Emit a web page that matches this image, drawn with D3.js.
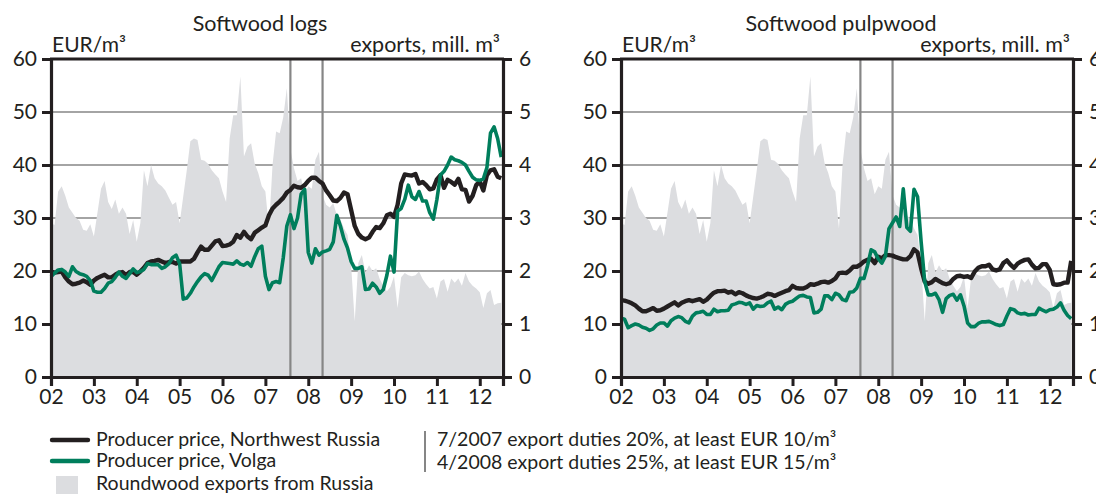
<!DOCTYPE html>
<html>
<head>
<meta charset="utf-8">
<script src="https://cdn.jsdelivr.net/npm/d3@7"></script>
<style>
  body { margin: 0; background: #fff; }
  svg text { font-family: Lato, "Open Sans", sans-serif; fill: #231f20; }
</style>
</head>
<body>
<svg id="chart" width="1096" height="494"></svg>
<script>
// monthly series, Jan 2002 .. Jul 2012
var yearLabels = ["02", "03", "04", "05", "06", "07", "08", "09", "10", "11", "12"];

// roundwood exports from Russia, mill. m3 (same in both panels)
var exportsRussia = [
  2.9, 2.87, 3.5, 3.6, 3.42, 3.2, 3.1, 3.0, 2.95, 2.78, 2.76, 2.88,
  2.65, 3.1, 3.55, 3.7, 3.3, 3.17, 3.35, 3.08, 3.2, 3.08, 2.7, 2.96,
  2.55, 2.9, 3.9, 3.6, 4.0, 3.75, 3.65, 3.6, 3.52, 3.38, 3.25, 3.3,
  2.9, 3.4, 3.9, 4.45, 4.5, 4.47, 4.1, 4.08, 4.02, 3.9, 3.82, 3.75,
  3.5, 3.3, 4.5, 4.94, 4.94, 5.67, 4.16, 4.35, 4.41, 4.03, 3.85, 3.6,
  3.5, 2.8, 4.0, 4.63, 4.6, 4.9, 5.45, 4.3, 3.94, 3.7, 3.75, 3.45,
  3.6, 3.55, 4.1, 4.25, 3.43, 3.25, 3.2, 3.28, 3.05, 2.97, 2.8, 2.68,
  2.1, 1.05, 2.15, 2.3, 1.97, 2.11, 2.0, 2.05, 1.85, 1.72, 1.62, 1.7,
  1.9, 1.3, 1.88, 1.96, 1.92, 1.9, 1.92, 1.99, 1.85, 1.75, 1.67, 1.7,
  1.48, 1.8, 1.85, 1.61, 1.86, 1.78, 1.86, 1.72, 1.96, 1.8, 1.72, 1.67,
  1.6, 1.3, 1.58, 1.64, 1.36, 1.39, 1.4
];

var logsNorthwest = [
  19.9, 19.7, 19.8, 19.9, 18.8, 18.0, 17.5, 17.6, 17.8, 18.2, 17.9, 17.4,
  18.2, 18.7, 19.0, 19.3, 18.8, 18.8, 19.3, 19.7, 19.8, 19.2, 19.8, 19.8,
  19.3, 19.9, 20.6, 21.5, 21.8, 21.9, 22.1, 21.8, 21.5, 21.7, 21.7, 21.4,
  21.8, 21.8, 21.8, 21.8, 22.3, 23.5, 24.6, 24.0, 24.0, 24.8, 25.6, 25.8,
  24.7, 24.8, 25.0, 25.5, 26.8, 26.3, 27.4, 26.5, 26.0, 27.2, 27.7, 28.2,
  28.6, 30.5, 31.8, 32.5, 33.1, 33.8, 34.8, 35.3, 36.1, 35.8, 35.7, 36.2,
  37.0, 37.6, 37.6, 37.0, 36.5, 35.2, 34.3, 33.3, 33.2, 33.8, 34.8, 34.5,
  31.5, 28.5, 27.0, 26.3, 26.0, 26.3, 27.4, 28.3, 28.1, 29.0, 30.5, 30.8,
  30.2, 32.5, 36.5, 38.2, 38.1, 38.0, 38.3, 36.5, 36.8, 36.2, 35.4, 35.6,
  37.3, 38.1, 35.7, 37.2, 36.8, 36.3, 37.4, 35.4, 35.3, 33.1, 34.2, 36.2,
  36.9, 35.2, 38.1, 39.0, 39.2, 37.8, 37.5
];

var logsVolga = [
  18.9, 19.6, 20.2, 20.3, 19.8, 19.0, 20.8, 19.9, 19.5, 19.3, 19.0, 18.2,
  16.2, 16.0, 16.0, 16.7, 17.7, 18.0, 18.8, 19.8, 19.0, 18.6, 19.5, 20.4,
  19.7, 19.9, 20.3, 21.4, 21.2, 21.2, 21.2, 20.5, 20.8, 21.4, 22.5, 23.0,
  21.4, 14.7, 14.9, 15.8, 17.0, 18.0, 18.9, 19.5, 19.2, 18.2, 19.5, 20.8,
  21.6, 21.5, 21.4, 21.3, 21.9, 21.3, 21.1, 21.6, 20.9, 22.7, 24.2, 24.7,
  19.0, 16.5, 17.8, 18.0, 17.8, 22.5, 28.5, 30.6, 28.0, 30.0, 34.5, 35.4,
  23.5, 21.5, 24.2, 23.0, 23.6, 23.8, 24.1, 25.5, 30.5, 28.5, 26.0, 24.3,
  21.8, 20.5, 20.5, 20.8, 16.5, 16.6, 17.7, 17.0, 15.8, 16.5, 19.2, 22.8,
  19.8, 31.3, 31.8, 33.5, 36.2, 34.0, 33.5, 35.0, 33.2, 33.2, 31.0, 29.8,
  33.5, 38.1, 38.8, 40.0, 41.5, 41.0, 40.8, 40.5, 40.0, 38.8, 37.7, 37.2,
  37.1, 37.4, 39.5, 46.0, 47.2, 45.0, 41.5
];

var pulpNorthwest = [
  14.5, 14.4, 14.2, 13.9, 13.5, 12.9, 12.4, 12.4, 12.7, 13.0, 12.5, 12.6,
  12.9, 13.3, 13.7, 14.1, 13.5, 14.0, 14.3, 14.5, 14.3, 14.5, 14.7, 14.2,
  14.6, 15.3, 15.9, 16.2, 16.2, 16.3, 15.9, 16.1, 15.6, 16.0, 15.8, 15.4,
  15.1, 14.9, 14.8, 15.0, 15.3, 15.7, 15.6, 15.3, 15.6, 15.9, 16.2, 16.4,
  17.2, 16.8, 16.7, 16.7, 17.0, 17.5, 17.4, 17.6, 17.9, 18.0, 17.8, 18.1,
  18.6, 19.6, 19.7, 19.6, 20.1, 20.8, 20.8, 21.2, 21.8, 22.1, 22.3, 21.5,
  22.7, 22.4, 23.0, 23.0, 22.9, 22.6, 22.4, 22.2, 22.2, 22.8, 24.1, 23.5,
  20.5, 18.0, 17.6, 17.9, 18.5, 18.1, 17.7, 17.5, 17.7, 18.5, 19.0, 19.1,
  18.9, 19.0, 18.7, 19.9, 20.6, 20.9, 20.9, 21.2, 20.3, 20.1, 20.3, 21.5,
  22.0, 21.2, 20.6, 21.4, 21.8, 22.1, 22.2, 21.2, 20.5, 20.6, 21.3, 21.3,
  20.2, 17.5, 17.4, 17.5, 17.8, 17.8, 21.9
];

var pulpVolga = [
  11.1, 10.9, 9.3, 9.7, 10.0, 9.8, 9.4, 9.2, 8.8, 9.1, 9.8, 10.2,
  10.2, 9.6, 10.6, 11.1, 11.4, 11.2, 10.5, 10.2, 11.5, 12.1, 12.2, 12.4,
  11.8, 11.8, 12.8, 12.3, 12.5, 12.5, 12.6, 13.6, 13.8, 14.1, 14.0, 13.7,
  14.0, 12.8, 13.5, 13.3, 13.4, 14.0, 14.3, 12.8, 13.2, 12.7, 13.7, 14.1,
  14.3, 14.8, 15.3, 15.4, 15.1, 15.0, 12.1, 12.2, 12.8, 15.3, 15.3, 14.6,
  15.8, 15.5, 14.6, 14.4, 16.0, 16.1, 16.8, 18.6, 18.6, 21.0, 24.0, 23.6,
  22.3, 21.5, 22.8, 28.0, 29.1, 30.2, 28.4, 35.5, 28.2, 27.5, 35.4, 34.0,
  25.5, 18.0, 15.5, 15.5, 15.8, 14.6, 12.2, 14.8, 15.4, 15.6, 14.5, 15.5,
  13.4, 10.2, 9.5, 9.5, 10.1, 10.4, 10.4, 10.5, 10.2, 9.9, 9.7, 9.9,
  11.5, 12.9, 12.7, 12.1, 11.9, 12.0, 11.7, 11.8, 11.8, 13.0, 12.6, 12.3,
  12.7, 12.8, 13.2, 14.0, 12.6, 11.6, 11.0
];

// export duty changes: 7/2007 and 4/2008 (drawn at month end)
var dutyMonths = [67, 76];

var legendLines = ["Producer price, Northwest Russia", "Producer price, Volga"];
var legendArea = "Roundwood exports from Russia";
var dutyNotes = ["7/2007 export duties 20%, at least EUR 10/m\u00b3",
                 "4/2008 export duties 25%, at least EUR 15/m\u00b3"];

var BLACK = "#231f20", GREEN = "#007e5c", AREA = "#dcdde0", GRID = "#868686";

var svg = d3.select("#chart");

function drawPanel(left, title, titleX, blackVals, greenVals) {
  var w = 452, top = 59, bottom = 377;
  var g = svg.append("g").attr("transform", "translate(" + left + ",0)");

  var x = d3.scaleLinear().domain([0, 126.5]).range([0, w]);
  var y = d3.scaleLinear().domain([0, 60]).range([bottom, top]);
  var y2 = d3.scaleLinear().domain([0, 6]).range([bottom, top]);

  // gridlines sit behind the export area
  g.selectAll("line.grid").data([10, 20, 30, 40, 50]).enter().append("line")
    .attr("class", "grid")
    .attr("x1", 0).attr("x2", w)
    .attr("y1", function(d) { return y(d); }).attr("y2", function(d) { return y(d); })
    .attr("stroke", GRID).attr("stroke-width", 1.6);

  var area = d3.area()
    .x(function(d, i) { return x(i); })
    .y0(bottom)
    .y1(function(d) { return y2(d); });
  g.append("path").datum(exportsRussia)
    .attr("d", area).attr("fill", AREA);

  g.selectAll("line.duty").data(dutyMonths).enter().append("line")
    .attr("class", "duty")
    .attr("x1", function(d) { return x(d); }).attr("x2", function(d) { return x(d); })
    .attr("y1", top).attr("y2", bottom)
    .attr("stroke", GRID).attr("stroke-width", 2.2);

  var line = d3.line()
    .x(function(d, i) { return x(i); })
    .y(function(d) { return y(d); });
  g.append("path").datum(blackVals).attr("d", line)
    .attr("fill", "none").attr("stroke", BLACK)
    .attr("stroke-width", 4.4).attr("stroke-linejoin", "round");
  g.append("path").datum(greenVals).attr("d", line)
    .attr("fill", "none").attr("stroke", GREEN)
    .attr("stroke-width", 3.6).attr("stroke-linejoin", "round");

  // frame
  g.append("line").attr("x1", -1).attr("x2", w + 1).attr("y1", top).attr("y2", top)
    .attr("stroke", BLACK).attr("stroke-width", 3);

  var yAxis = d3.axisLeft(y).tickValues([0, 10, 20, 30, 40, 50, 60])
    .tickSize(9).tickPadding(5);
  var yAxisR = d3.axisRight(y2).tickValues([0, 1, 2, 3, 4, 5, 6])
    .tickFormat(d3.format("d"))
    .tickSize(9).tickPadding(7);
  var xAxis = d3.axisBottom(x).tickValues(d3.range(0, 121, 12))
    .tickFormat(function(d, i) { return yearLabels[i]; })
    .tickSize(9).tickPadding(3);

  [g.append("g").call(yAxis),
   g.append("g").attr("transform", "translate(" + w + ",0)").call(yAxisR),
   g.append("g").attr("transform", "translate(0," + bottom + ")").call(xAxis)]
    .forEach(function(ax) {
      ax.select(".domain").attr("stroke", BLACK).attr("stroke-width", 3.2);
      ax.selectAll(".tick line").attr("stroke", BLACK).attr("stroke-width", 3);
      ax.selectAll(".tick text").attr("font-size", 21).attr("fill", BLACK)
        .style("font-family", "Lato, sans-serif");
    });

  g.append("text").attr("x", titleX).attr("y", 31)
    .attr("text-anchor", "middle").attr("font-size", 21.5).text(title);
  g.append("text").attr("x", 1).attr("y", 52)
    .attr("font-size", 21).text("EUR/m\u00b3");
  g.append("text").attr("x", w - 3).attr("y", 52)
    .attr("text-anchor", "end").attr("font-size", 21.5).text("exports, mill. m\u00b3");
}

drawPanel(51, "Softwood logs", 209, logsNorthwest, logsVolga);
drawPanel(621, "Softwood pulpwood", 220, pulpNorthwest, pulpVolga);

// legend
var leg = svg.append("g");
[BLACK, GREEN].forEach(function(c, i) {
  leg.append("line").attr("x1", 52).attr("x2", 88)
    .attr("y1", 440 + i * 21).attr("y2", 440 + i * 21)
    .attr("stroke", c).attr("stroke-width", 4.4).attr("stroke-linecap", "round");
  leg.append("text").attr("x", 96).attr("y", 446 + i * 21)
    .attr("font-size", 19.5).text(legendLines[i]);
});
leg.append("rect").attr("x", 56).attr("y", 476).attr("width", 22).attr("height", 18)
  .attr("fill", AREA);
leg.append("text").attr("x", 96).attr("y", 490).attr("font-size", 19.5).text(legendArea);

leg.append("line").attr("x1", 425).attr("x2", 425).attr("y1", 431).attr("y2", 472)
  .attr("stroke", GRID).attr("stroke-width", 2);
dutyNotes.forEach(function(t, i) {
  leg.append("text").attr("x", 437).attr("y", 446 + i * 23)
    .attr("font-size", 19.5).text(t);
});
</script>
</body>
</html>
